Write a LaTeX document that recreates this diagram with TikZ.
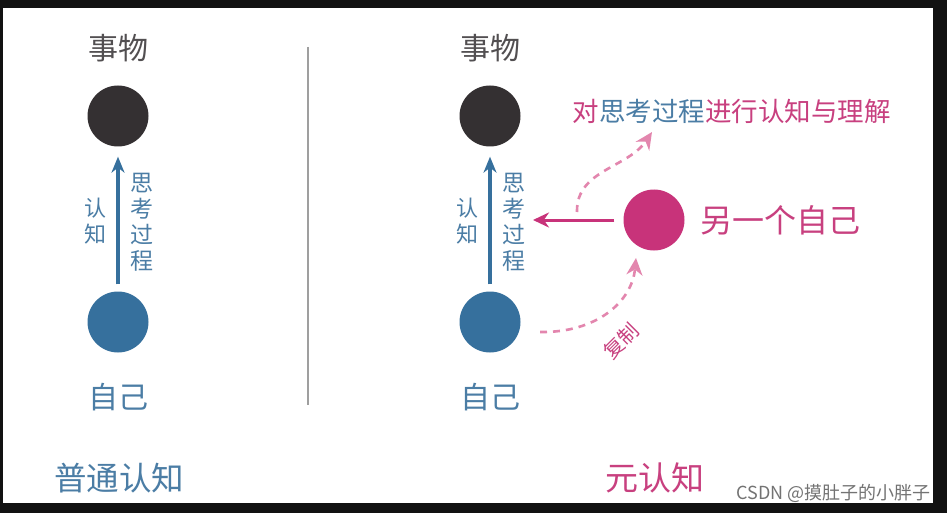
\documentclass[tikz,border=0pt]{standalone}
\usepackage{fontspec}
\setmainfont{Noto Sans CJK SC}
\usetikzlibrary{arrows.meta,positioning}
\definecolor{thingc}{HTML}{343032}
\definecolor{selfc}{HTML}{36709D}
\definecolor{otherc}{HTML}{C8337A}
\definecolor{bluetext}{HTML}{4B7DA5}
\definecolor{magtext}{HTML}{C8407F}
\definecolor{pinkc}{HTML}{E386AE}
\newcommand{\Fs}[2]{\fontsize{#1}{#2}\selectfont}

\begin{document}
\begin{tikzpicture}[x=1pt,y=-1pt,
  dot/.style={circle,minimum size=61pt,inner sep=0pt},
  label30/.style={font=\Fs{30}{34}},
  vert/.style={align=center,inner sep=0pt,text=bluetext},
  thinkarrow/.style={selfc,line width=3.6pt,-{Stealth[length=16pt,width=13pt]}},
  lookarrow/.style={otherc,line width=3pt,-{Stealth[length=16pt,width=15pt]}},
  dasharrow/.style={pinkc,line width=2.6pt,dash pattern=on 7pt off 6pt,-{Stealth[length=17pt,width=16pt]}}]
\useasboundingbox (0,0) rectangle (947,513);
\fill[black!93] (0,0) rectangle (947,513);
\fill[white] (3,8) rectangle (933,503);

% divider
\draw[gray!75,line width=1.4pt] (308,47) -- (308,405);

% ordinary cognition
\node[label30,text=thingc!85] (thingA) at (118,48) {事物};
\node[dot,fill=thingc] (objA) at (118,116) {};
\node[dot,fill=selfc] (selfA) at (118,322) {};
\node[label30,text=bluetext] (meA) at (118,397) {自己};
\draw[thinkarrow,shorten <=7pt,shorten >=10pt] (selfA.north) -- (objA.south);
\node[vert,font=\Fs{22}{26}] (knowA) at (95,221) {认\\知};
\node[vert,font=\Fs{23}{26}] (procA) at (142,222) {思\\考\\过\\程};
\node[font=\Fs{32.5}{36},text=bluetext] (titleA) at (119,478) {普通认知};

% meta cognition
\node[label30,text=thingc!85] (thingB) at (490,48) {事物};
\node[dot,fill=thingc] (objB) at (490,116) {};
\node[dot,fill=selfc] (selfB) at (490,322) {};
\node[label30,text=bluetext] (meB) at (490,397) {自己};
\draw[thinkarrow,shorten <=7pt,shorten >=10pt] (selfB.north) -- (objB.south);
\node[vert,font=\Fs{22}{26}] (knowB) at (467,221) {认\\知};
\node[vert,font=\Fs{23}{26}] (procB) at (514,222) {思\\考\\过\\程};
\node[dot,fill=otherc] (other) at (654,220) {};
\node[font=\Fs{32}{36},text=magtext,anchor=west] (otherlbl) at (697,220) {另一个自己};
\node[font=\Fs{26.5}{30},anchor=west] (understand) at (569,111)
  {\color{magtext}对\color{bluetext}思考过程\color{magtext}进行认知与理解};
\coordinate (lookend) at (533,220);
\draw[lookarrow,shorten <=9pt] (other.west) -- (lookend);
\coordinate (upstart) at (577,212);
\coordinate (uptip) at (652,132);
\draw[dasharrow] (upstart) .. controls (576,170) and (628,168) .. (uptip);
\coordinate (copystart) at (540,332);
\coordinate (copytip) at (636,258);
\draw[dasharrow] (copystart) .. controls (596,333) and (632,302) .. (copytip);
\node[font=\Fs{20}{24},text=magtext,rotate=45] (copylbl) at (621,341) {复制};
\node[font=\Fs{33}{36},text=magtext] (titleB) at (655,478) {元认知};

\node[font=\Fs{18}{20},text=black!55,anchor=east] (mark) at (934,493) {CSDN @摸肚子的小胖子};
\end{tikzpicture}
\end{document}
